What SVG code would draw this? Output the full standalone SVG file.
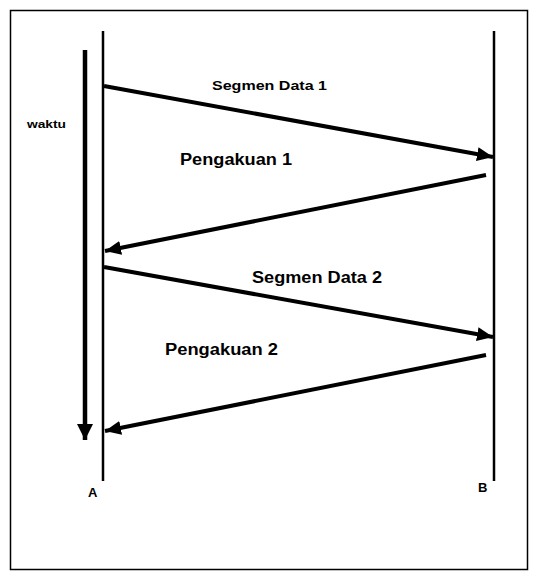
<svg xmlns="http://www.w3.org/2000/svg" width="539" height="580" viewBox="0 0 539 580">
<style>
.lbl{font-family:"Liberation Sans",Arial,sans-serif;font-weight:bold;fill:#000}
.life{stroke:#000;stroke-width:2.5;fill:none}
.msg{stroke:#000;stroke-width:4;fill:none;marker-end:url(#ah)}
</style>
<defs>
<marker id="ah" markerUnits="userSpaceOnUse" markerWidth="18" markerHeight="16" refX="16" refY="7" orient="auto">
<path d="M0,0 L16,7 L0,14 Z" fill="#000"/>
</marker>
<marker id="ahT" markerUnits="userSpaceOnUse" markerWidth="18" markerHeight="18" refX="16" refY="8" orient="auto">
<path d="M0,0 L16,8 L0,16 Z" fill="#000"/>
</marker>
</defs>
<rect x="10.5" y="10.5" width="517" height="559" fill="#fff" stroke="#000" stroke-width="1.5"/>
<g id="lifeline-A"><line class="life" x1="103" y1="31" x2="103" y2="481"/><text class="lbl" x="88" y="497" font-size="13">A</text></g>
<g id="lifeline-B"><line class="life" x1="494" y1="31" x2="494" y2="481"/><text class="lbl" x="478" y="492" font-size="13">B</text></g>
<g id="time"><line x1="85" y1="50" x2="85" y2="440" stroke="#000" stroke-width="4.5" marker-end="url(#ahT)"/><text class="lbl" x="27" y="128" font-size="11" textLength="39" lengthAdjust="spacingAndGlyphs">waktu</text></g>
<g id="connectors">
<line class="msg" x1="104" y1="86" x2="493" y2="157"/>
<line class="msg" x1="486" y1="175" x2="105" y2="251"/>
<line class="msg" x1="104" y1="267" x2="493" y2="337"/>
<line class="msg" x1="486" y1="355" x2="105" y2="431"/>
</g>
<g id="labels">
<text class="lbl" x="212" y="90" font-size="13" textLength="115" lengthAdjust="spacingAndGlyphs">Segmen Data 1</text>
<text class="lbl" x="180" y="165" font-size="16" textLength="112" lengthAdjust="spacingAndGlyphs">Pengakuan 1</text>
<text class="lbl" x="252" y="283" font-size="16" textLength="130" lengthAdjust="spacingAndGlyphs">Segmen Data 2</text>
<text class="lbl" x="165" y="355" font-size="16" textLength="113" lengthAdjust="spacingAndGlyphs">Pengakuan 2</text>
</g>
</svg>
